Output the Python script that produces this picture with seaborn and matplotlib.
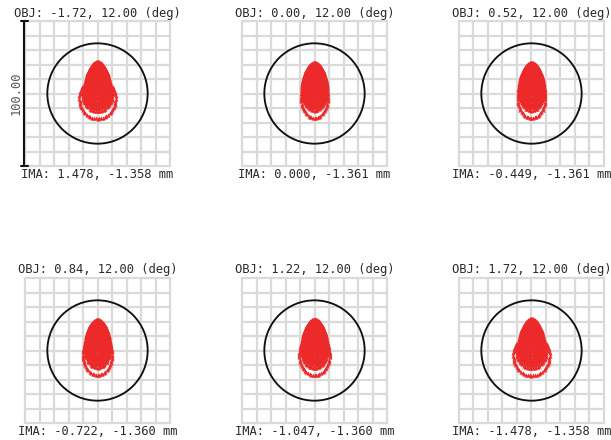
import numpy as np
import pandas as pd
import matplotlib
matplotlib.use("Agg")
import matplotlib.pyplot as plt
from matplotlib.patches import Circle
import seaborn as sns

# Field points and image heights
obj_x_deg = [-1.72, 0.00, 0.52, 0.84, 1.22, 1.72]
obj_y_deg = [12.00, 12.00, 12.00, 12.00, 12.00, 12.00]
ima_x_mm = [1.478, 0.000, -0.449, -0.722, -1.047, -1.478]
ima_y_mm = [-1.358, -1.361, -1.361, -1.360, -1.360, -1.358]

# Ray aberration coefficients per field (micrometres) and pupil vignetting in x
coma_um = [-11.4, -11.0, -11.0, -11.0, -11.2, -11.4]
defocus_um = [13.2, 13.2, 13.2, 13.2, 13.2, 13.2]
spherical_um = [-16.8, -16.8, -16.8, -16.8, -16.8, -16.8]
pupil_vx = [0.94, 0.80, 0.82, 0.84, 0.86, 0.94]
centre_shift_um = [2.2, 2.2, 2.2, 2.2, 2.2, 2.2]

airy_radius_um = 34.6
scale_um = 100.0
pupil_rings = 20

sns.set_style("white")
plt.rcParams["font.family"] = ["DejaVu Sans Mono"]

# Hexapolar pupil sampling
px0, py0 = [0.0], [0.0]
for i in range(1, pupil_rings + 1):
    r = i / pupil_rings
    t = np.arange(6 * i) * 2 * np.pi / (6 * i)
    px0.extend(r * np.sin(t))
    py0.extend(r * np.cos(t))
px0 = np.array(px0)
py0 = np.array(py0)

W, H = 611, 440
fig = plt.figure(figsize=(W / 100, H / 100), dpi=100)

lefts = [25, 242, 459]
tops = [21, 278]
box = 145
half = scale_um / 2
text_col = "#2b2b2b"

for k in range(6):
    row, col = divmod(k, 3)
    ax = fig.add_axes([lefts[col] / W, (H - tops[row] - box) / H, box / W, box / H])
    ax.set_xlim(-half, half)
    ax.set_ylim(-half, half)

    for g in np.linspace(-half, half, 11):
        ax.plot([g, g], [-half, half], color="#dadada", lw=1.6, clip_on=False, zorder=1)
        ax.plot([-half, half], [g, g], color="#dadada", lw=1.6, clip_on=False, zorder=1)

    # Transverse ray errors for coma, defocus and spherical aberration
    c, d, s = coma_um[k], defocus_um[k], spherical_um[k]
    px = px0 * pupil_vx[k]
    py = py0
    rho2 = px ** 2 + py ** 2
    ex = c * 2 * px * py + (d + s * rho2) * px
    ey = c * (px ** 2 + 3 * py ** 2) + (d + s * rho2) * py
    ex = ex - (ex.max() + ex.min()) / 2
    ey = ey - (ey.max() + ey.min()) / 2 + centre_shift_um[k]
    df = pd.DataFrame({"x": ex, "y": ey})
    sns.scatterplot(data=df, x="x", y="y", marker="^", s=9, color="#ec2a2a",
                    linewidth=0, ax=ax, legend=False, zorder=3)
    ax.set_axis_off()

    ax.add_patch(Circle((0, 0), airy_radius_um, fill=False, ec="#111111", lw=1.35, zorder=4))

    cx = (lefts[col] + box / 2) / W
    fig.text(cx, 1 - (tops[row] - 8) / H, f"OBJ: {obj_x_deg[k]:.2f}, {obj_y_deg[k]:.2f} (deg)",
             ha="center", va="center", fontsize=8.7, color=text_col)
    fig.text(cx, 1 - (tops[row] + box + 8) / H, f"IMA: {ima_x_mm[k]:.3f}, {ima_y_mm[k]:.3f} mm",
             ha="center", va="center", fontsize=8.7, color=text_col)

    if k == 0:
        bx = -half - 0.7
        ax.plot([bx, bx], [-half, half], color="#111111", lw=1.5, clip_on=False, zorder=5)
        for yy in (-half, half):
            ax.plot([bx - 2, bx + 2.5], [yy, yy], color="#111111", lw=1.5, clip_on=False, zorder=5)
        ax.text(bx - 5.5, 0, f"{scale_um:.2f}", rotation=90, ha="center", va="center",
                fontsize=8.7, color="#555555")

fig.savefig("out.png", dpi=100)
